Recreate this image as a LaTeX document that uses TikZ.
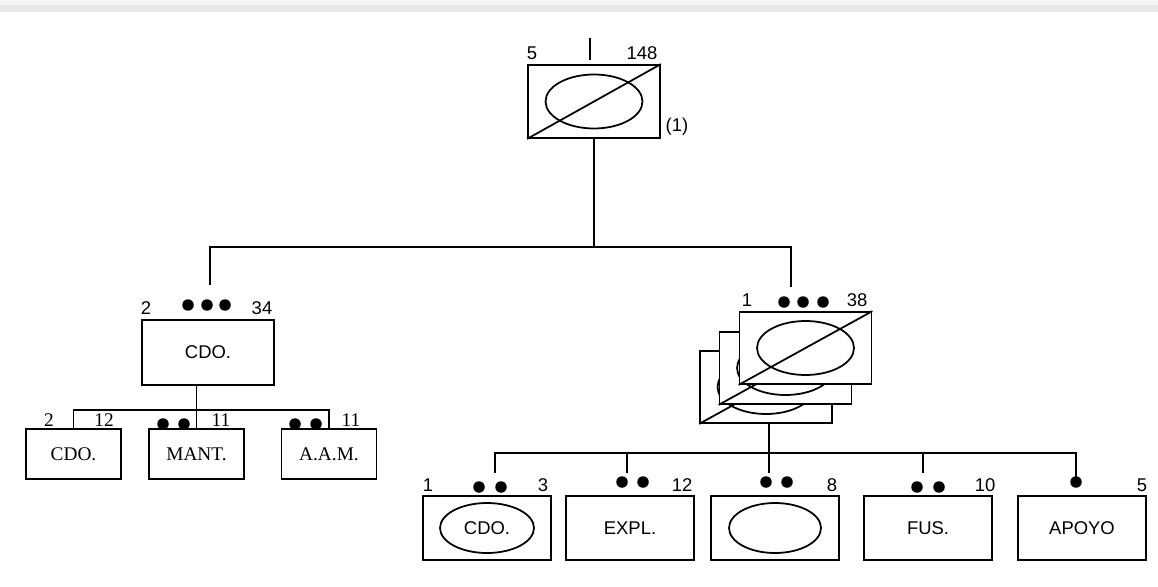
\documentclass[tikz,border=0pt]{standalone}
\usepackage{fontspec}
\setmainfont{Liberation Sans}
\newfontfamily\timesfont{Liberation Serif}
\usetikzlibrary{shapes.geometric}

\begin{document}
\begin{tikzpicture}[x=0.02cm, y=-0.02cm, line width=1pt,
  every node/.style={font=\fontsize{10.5}{12}\selectfont},
  unit/.style={draw, fill=white, inner sep=0pt, minimum width=2.64cm, minimum height=1.44cm},
  cell/.style={draw, inner sep=0pt, minimum width=2.56cm, minimum height=1.28cm},
  sub/.style={draw, inner sep=0pt, minimum width=1.9cm, minimum height=1cm,
    font=\fontsize{11}{12}\timesfont},
  oval/.style={draw, ellipse, inner sep=0pt, minimum width=1.94cm, minimum height=1.08cm},
  num/.style={inner sep=0pt}]
  \useasboundingbox (0,0) rectangle (1158,587);
  % Rand oben
  \fill[black!4] (0,0) rectangle (1158,5);
  \fill[black!9] (0,5) rectangle (1158,12);

  % Kompanie
  \node[unit, minimum height=1.46cm] (cg) at (594,101.5) {};
  \node[oval] (cg-o) at (cg) {};
  \draw (cg.south west) -- (cg.north east);
  \node[num] (cg-l) at (532,53) {5};
  \node[num] (cg-r) at (642,53) {148};
  \node[num] (cg-n) at (677,127) {(1)};
  \draw (590,38) -- (590,60);

  % Sektionen (gestapelt)
  \foreach \n/\x/\y in {sec3/766/387, sec2/785.5/368, sec1/805.5/348}{
    \node[unit] (\n) at (\x,\y) {};
    \node[oval] (\n-o) at (\n) {};
    \draw (\n.south west) -- (\n.north east);
  }
  \node[num] (sec-l) at (747,300) {1};
  \node[num] (sec-r) at (857,300) {38};
  \foreach \x in {784,803,823} \fill (\x,302) circle (0.115cm);

  % Kommandogruppe
  \node[cell, minimum width=2.64cm, minimum height=1.3cm] (cdo) at (208,352.5) {CDO.};
  \node[num] (cdo-l) at (146,308) {2};
  \node[num] (cdo-r) at (262,308) {34};
  \foreach \x in {188,207,225} \fill (\x,305) circle (0.115cm);

  % Zuege links
  \node[sub] (pl) at (73.5,454) {CDO.};
  \node[sub] (mant) at (196.5,454) {MANT.};
  \node[sub] (aam) at (329,454) {A.A.M.};
  \node[num, font=\fontsize{11}{12}\timesfont] (pl-l) at (49,420) {2};
  \node[num, font=\fontsize{11}{12}\timesfont] (pl-r) at (104,420) {12};
  \node[num, font=\fontsize{11}{12}\timesfont] (mant-r) at (221,420) {11};
  \node[num, font=\fontsize{11}{12}\timesfont] (aam-r) at (351,420) {11};
  \foreach \x in {163,184,295,316} \fill (\x,424) circle (0.115cm);

  % Zuege unten
  \node[cell] (p1) at (487,528) {};
  \node[oval, minimum width=1.88cm, minimum height=1cm] (p1-o) at (p1) {CDO.};
  \node[cell] (p2) at (630,528) {EXPL.};
  \node[cell] (p3) at (775,528) {};
  \node[oval, minimum width=1.84cm, minimum height=1cm] (p3-o) at (p3) {};
  \node[cell] (p4) at (928,528) {FUS.};
  \node[cell] (p5) at (1082,528) {APOYO};
  \node[num] (p1-l) at (428,485) {1};
  \node[num] (p1-r) at (543,485) {3};
  \node[num] (p2-r) at (682,485) {12};
  \node[num] (p3-r) at (832,485) {8};
  \node[num] (p4-r) at (985,485) {10};
  \node[num] (p5-r) at (1142,485) {5};
  \foreach \x/\y in {479/487, 501/487, 622/482, 643/482, 766/482, 787/482,
                     917/487, 939/487, 1076/482}
    \fill (\x,\y) circle (0.115cm);

  % Verbindungen
  \coordinate (busA) at (594,247);
  \coordinate (cdoTop) at (210,285);
  \coordinate (secTop) at (791,287);
  \draw (cg.south) -- (busA);
  \draw (cdoTop) |- (busA) -| (secTop);

  \coordinate (busB) at (196.5,410);
  \draw (mant.north) -- (mant.north |- cdo.south);
  \draw (pl.north) |- (busB) -| (aam.north);

  \coordinate (bus) at (769,453);
  \coordinate (b1) at (495,473);
  \coordinate (b2) at (627,473);
  \coordinate (b3) at (769,473);
  \coordinate (b4) at (923,473);
  \coordinate (b5) at (1076,477);
  \draw (bus |- sec3.south) -- (b3);
  \draw (b1) |- (bus) -| (b5);
  \foreach \b in {b2,b4} \draw (\b) -- (\b |- bus);
\end{tikzpicture}
\end{document}
